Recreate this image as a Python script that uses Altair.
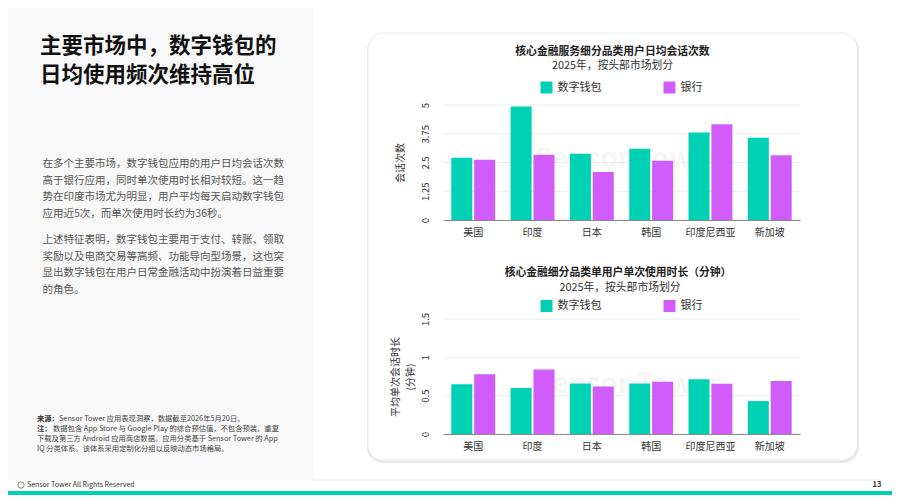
import altair as alt
import pandas as pd

FONT = "Noto Sans CJK SC"
TEAL = "#00D1B4"
PURPLE = "#D15CFC"

# ---------------- data ----------------
markets = ["美国", "印度", "日本", "韩国", "印度尼西亚", "新加坡"]
series_names = ["数字钱包", "银行"]
sessions_wallet = [2.71, 4.93, 2.88, 3.10, 3.80, 3.58]
sessions_bank = [2.62, 2.84, 2.09, 2.58, 4.16, 2.81]
duration_wallet = [0.65, 0.60, 0.66, 0.66, 0.715, 0.43]
duration_bank = [0.78, 0.84, 0.62, 0.68, 0.655, 0.69]
session_ticks = [0, 1.25, 2.5, 3.75, 5]
duration_ticks = [0, 0.5, 1, 1.5]

heading_lines = ["主要市场中，数字钱包的", "日均使用频次维持高位"]
para1 = ["在多个主要市场，数字钱包应用的用户日均会话次数",
         "高于银行应用，同时单次使用时长相对较短。这一趋",
         "势在印度市场尤为明显，用户平均每天启动数字钱包",
         "应用近5次，而单次使用时长约为36秒。"]
para2 = ["上述特征表明，数字钱包主要用于支付、转账、领取",
         "奖励以及电商交易等高频、功能导向型场景，这也突",
         "显出数字钱包在用户日常金融活动中扮演着日益重要",
         "的角色。"]
chart1_title = "核心金融服务细分品类用户日均会话次数"
chart2_title = "核心金融细分品类单用户单次使用时长（分钟）"
subtitle = "2025年，按头部市场划分"
y1_title = "会话次数"
y2_title = ["平均单次会话时长", "(分钟)"]
note_src_label = "来源："
note_src = "Sensor Tower 应用表现洞察，数据截至2026年5月20日。"
note_label = "注："
note_lines = ["数据包含 App Store 与 Google Play 的综合预估值，不包含预装、重复",
              "下载及第三方 Android 应用商店数据。应用分类基于 Sensor Tower 的 App",
              "IQ 分类体系。该体系采用定制化分组以反映动态市场格局。"]
footer_text = "Sensor Tower All Rights Reserved"
page_no = "13"

W, H = 884, 487
O = 8


def px(v):
    return v - O


def long(w, b):
    rows = []
    for m, a, c in zip(markets, w, b):
        rows.append({"市场": m, "类别": series_names[0], "值": a})
        rows.append({"市场": m, "类别": series_names[1], "值": c})
    return pd.DataFrame(rows)


one = pd.DataFrame({"k": [0]})


def txt(s, x, y, size=11, weight="normal", color="#333", align="left", baseline="middle", opacity=1.0):
    return alt.Chart(one).mark_text(
        align=align, baseline=baseline, fontSize=size, fontWeight=weight,
        color=color, font=FONT, opacity=opacity
    ).encode(x=alt.value(x), y=alt.value(y), text=alt.value(s))


def rect(x1, x2, y1, y2, fill, stroke=None, radius=0):
    kw = dict(fill=fill, cornerRadius=radius)
    if stroke:
        kw["stroke"] = stroke
        kw["strokeWidth"] = 1
    return alt.Chart(one).mark_rect(**kw).encode(
        x=alt.value(x1), x2=alt.value(x2), y=alt.value(y1), y2=alt.value(y2))


def bar_panel(df, domain, ticks, yrange, axis_y, title, title_x, legend_y):
    yscale = alt.Scale(domain=domain, range=yrange, nice=False, zero=True)
    yaxis = alt.Axis(orient="left", offset=-px(443), values=ticks, format=".3~g",
                     labelAngle=270, labelAlign="center", labelBaseline="middle",
                     labelPadding=18, labelFontSize=9.5, labelColor="#333", labelFont=FONT,
                     domain=False, ticks=False, grid=False, zindex=1,
                     title=title, titleX=title_x, titleY=(yrange[0] + yrange[1]) / 2,
                     titleAngle=270, titleAlign="center", titleBaseline="middle",
                     titleFontSize=10, titleFontWeight="normal", titleColor="#333",
                     titleFont=FONT, titleLineHeight=15)
    grid = alt.Chart(pd.DataFrame({"值": ticks})).mark_rule(color="#ececec", strokeWidth=1).encode(
        y=alt.Y("值:Q", scale=yscale, axis=yaxis),
        x=alt.value(px(443)), x2=alt.value(px(800)),
    )
    bars = alt.Chart(df).mark_bar().encode(
        x=alt.X("市场:N", sort=markets,
                scale=alt.Scale(range=[px(443), px(800)], paddingInner=0.26, paddingOuter=0.14),
                axis=alt.Axis(title=None, orient="bottom", offset=axis_y - H, labelAngle=0,
                              labelFontSize=10, labelColor="#333", labelPadding=7, ticks=False,
                              domainColor="#8a8a8a", grid=False, labelFont=FONT, zindex=1)),
        xOffset=alt.XOffset("类别:N", sort=series_names, scale=alt.Scale(paddingInner=0.08)),
        y=alt.Y("值:Q", scale=yscale, axis=yaxis),
        color=alt.Color("类别:N", sort=series_names,
                        scale=alt.Scale(domain=series_names, range=[TEAL, PURPLE]),
                        legend=alt.Legend(orient="none", legendX=px(540.5), legendY=legend_y,
                                          direction="horizontal", columns=2, title=None,
                                          symbolType="square", symbolSize=144, symbolStrokeWidth=0,
                                          labelFontSize=11, labelColor="#333", labelFont=FONT,
                                          columnPadding=62, labelOffset=5, padding=0)),
    )
    return alt.layer(grid, bars)


layers = []
# backgrounds
layers.append(rect(0, px(313), 0, px(480), "#f8f8f8"))
layers.append(rect(px(367), px(859), px(34), px(463), "#e8e8e8", radius=16))
layers.append(rect(px(368), px(857), px(33), px(460), "white", stroke="#eeeeee", radius=15))
layers.append(alt.Chart(one).mark_rule(color="#eeeeee").encode(
    x=alt.value(px(313)), x2=alt.value(px(882)), y=alt.value(472)))
layers.append(rect(0, W, 483, H, TEAL))

# left heading & body
layers.append(txt(heading_lines[0], px(40), px(47), size=21.5, weight="bold", color="#111"))
layers.append(txt(heading_lines[1], px(40), px(75.5), size=21.5, weight="bold", color="#111"))
for i, s in enumerate(para1):
    layers.append(txt(s, px(42.5), px(164 + i * 16.5), size=10.5, color="#555"))
for i, s in enumerate(para2):
    layers.append(txt(s, px(42.5), px(240 + i * 16.5), size=10.5, color="#555"))

# notes
layers.append(txt(note_src_label, px(37), px(419), size=7.3, weight="bold", color="#333"))
layers.append(txt(note_src, px(59), px(419), size=7.3, color="#444"))
layers.append(txt(note_label, px(37), px(429.3), size=7.3, weight="bold", color="#333"))
layers.append(txt(note_lines[0], px(53), px(429.3), size=7.3, color="#444"))
layers.append(txt(note_lines[1], px(37), px(439.3), size=7.3, color="#444"))
layers.append(txt(note_lines[2], px(37), px(449), size=7.3, color="#444"))

# footer
layers.append(alt.Chart(one).mark_point(shape="circle", filled=False, size=40, color="#555",
                                         strokeWidth=1).encode(x=alt.value(px(21)), y=alt.value(477)))
layers.append(txt(footer_text, px(27), 477, size=7, color="#333"))
layers.append(txt(page_no, px(877), 477, size=7.5, weight="bold", color="#333", align="center"))

# chart titles
layers.append(txt(chart1_title, px(612.5), px(51.5), size=10.8, weight="bold", color="#222", align="center"))
layers.append(txt(subtitle, px(612.5), px(66), size=10.8, color="#333", align="center"))
layers.append(txt(chart2_title, px(618), px(272.5), size=10.8, weight="bold", color="#222", align="center"))
layers.append(txt(subtitle, px(620), px(287.5), size=10.8, color="#333", align="center"))

# watermarks
layers.append(txt("Sensor Tower", px(628), px(160), size=28, weight="bold", color="#000",
                  align="center", opacity=0.03))
layers.append(txt("Sensor Tower", px(628), px(385), size=28, weight="bold", color="#000",
                  align="center", opacity=0.03))

# bar charts
layers.append(bar_panel(long(sessions_wallet, sessions_bank), [0, 5], session_ticks,
                        [px(220), px(105)], px(220), y1_title, -43, px(87.5) - 6))
layers.append(bar_panel(long(duration_wallet, duration_bank), [0, 1.5], duration_ticks,
                        [px(434), px(319)], px(434), y2_title, -47.5, px(306) - 6))

chart = alt.layer(*layers).resolve_scale(
    x="independent", y="independent", color="independent", xOffset="independent"
).resolve_axis(x="independent", y="independent").resolve_legend(color="independent").properties(
    width=W, height=H, padding=0, autosize="none", background="white"
).configure(font=FONT).configure_view(stroke=None)

chart.save("out.html", embed_options={"renderer": "svg", "actions": False})
